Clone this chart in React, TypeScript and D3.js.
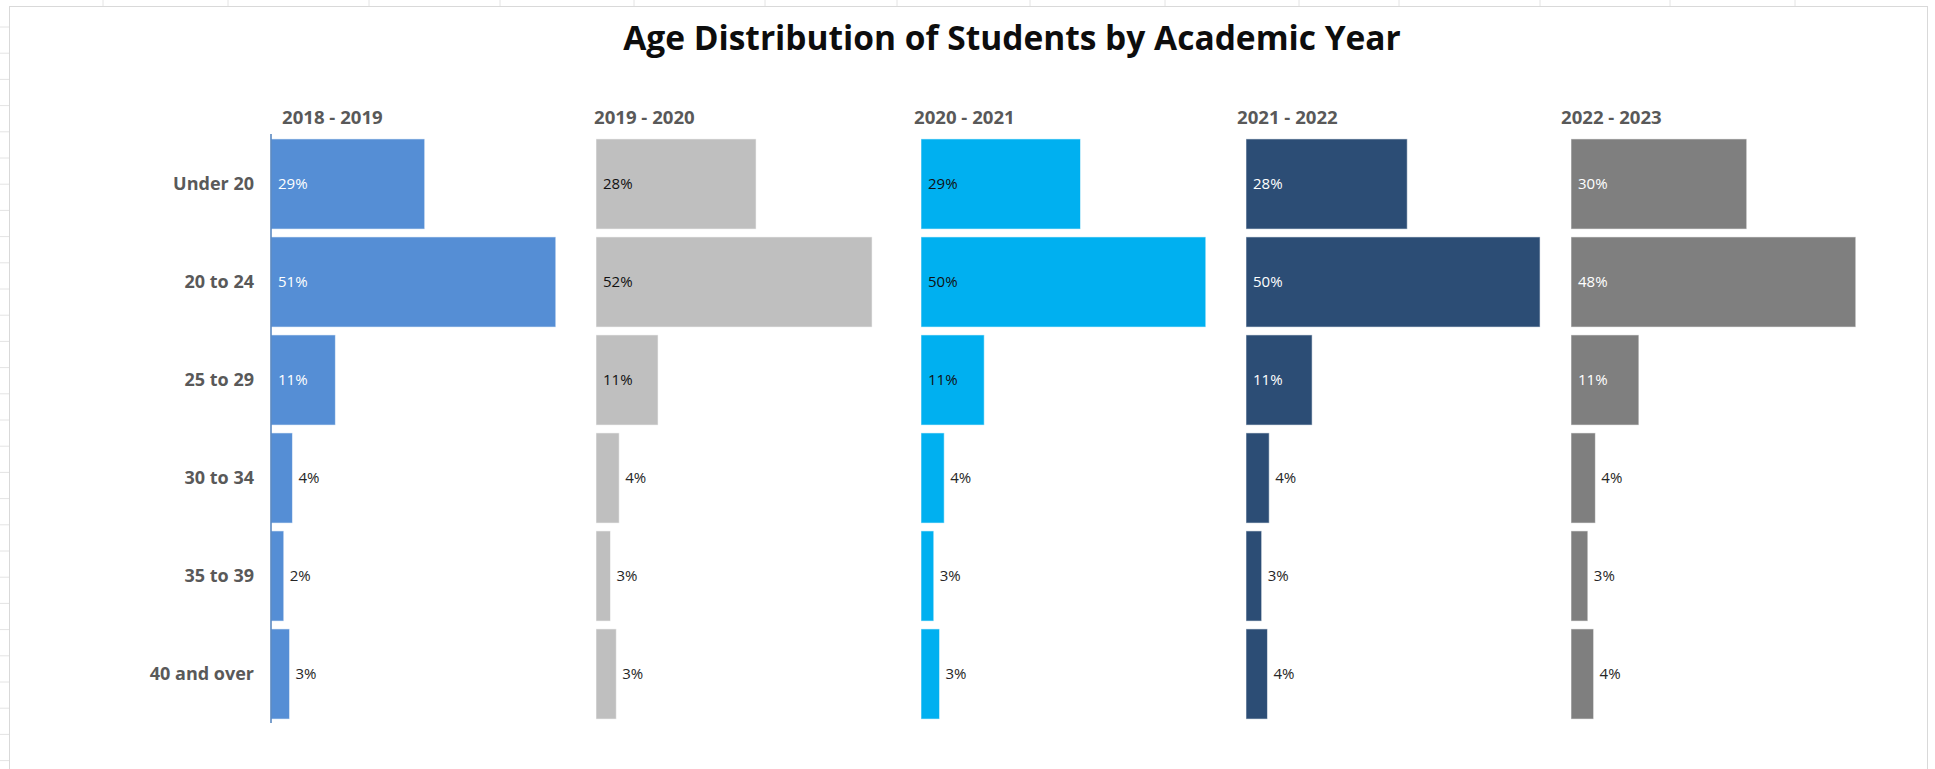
import React from "react";
import * as d3 from "d3";

const categories = ["Under 20", "20 to 24", "25 to 29", "30 to 34", "35 to 39", "40 and over"];
const years = ["2018 - 2019", "2019 - 2020", "2020 - 2021", "2021 - 2022", "2022 - 2023"];

// bar lengths (percent of students)
const share2018 = [26.5, 49.1, 11.1, 3.7, 2.2, 3.2];
const share2019 = [27.6, 47.6, 10.7, 4.0, 2.5, 3.5];
const share2020 = [27.5, 49.1, 10.9, 4.0, 2.2, 3.2];
const share2021 = [27.8, 50.7, 11.4, 4.0, 2.7, 3.7];
const share2022 = [30.3, 49.1, 11.7, 4.2, 2.9, 3.9];

// data labels as printed on the chart
const label2018 = [29, 51, 11, 4, 2, 3];
const label2019 = [28, 52, 11, 4, 3, 3];
const label2020 = [29, 50, 11, 4, 3, 3];
const label2021 = [28, 50, 11, 4, 3, 4];
const label2022 = [30, 48, 11, 4, 3, 4];

const seriesValues = [share2018, share2019, share2020, share2021, share2022];
const seriesLabels = [label2018, label2019, label2020, label2021, label2022];

const colors = ["#558ED5", "#BFBFBF", "#00B0F0", "#2C4D75", "#7F7F7F"];
const insideLabelColors = ["#ffffff", "#111111", "#111111", "#ffffff", "#ffffff"];

const W = 1935;
const H = 769;
const HEADER_X = [282, 594, 914, 1237, 1561];
const TOP_GRID_X = [103, 228, 369, 500, 634, 765, 897, 1030, 1165, 1299, 1399, 1540, 1670, 1795];

export default function App() {
  const panel = d3.scaleBand<string>().domain(years).range([271, 271 + 5 * 325]).padding(0);
  const x = d3.scaleLinear().domain([0, 50]).range([0, 290]);
  const y = d3
    .scaleBand<string>()
    .domain(categories)
    .range([135, 723])
    .paddingInner(0.08)
    .paddingOuter(0.04);
  const fmt = (v: number) => `${v}%`;
  const leftGridY = d3.range(27, H, 26.2);

  return (
    <svg
      width={W}
      height={H}
      style={{ position: "absolute", left: 0, top: 0, background: "#fff" }}
      fontFamily="'Open Sans', sans-serif"
    >
      {/* spreadsheet cell lines around the chart */}
      {TOP_GRID_X.map((gx) => (
        <line key={"tg" + gx} x1={gx} x2={gx} y1={0} y2={6} stroke="#e4e4e4" />
      ))}
      {leftGridY.map((gy) => (
        <line key={"lg" + gy} x1={0} x2={9} y1={gy} y2={gy} stroke="#e4e4e4" />
      ))}
      <rect x={9.5} y={6.5} width={1918} height={H + 10} fill="#fff" stroke="#d9d9d9" />

      <text
        x={1012}
        y={50}
        textAnchor="middle"
        fontSize={33.5}
        fontWeight={700}
        fill="#0d0d0d"
      >
        Age Distribution of Students by Academic Year
      </text>

      {categories.map((c) => (
        <text
          key={c}
          x={254}
          y={(y(c) ?? 0) + y.bandwidth() / 2}
          dy="0.35em"
          textAnchor="end"
          fontSize={18}
          fontWeight={700}
          fill="#595959"
        >
          {c}
        </text>
      ))}

      {years.map((yr, i) => {
        const px = panel(yr) ?? 0;
        const vals = seriesValues[i];
        const labs = seriesLabels[i];
        return (
          <g key={yr}>
            <text x={HEADER_X[i]} y={124} fontSize={18.6} fontWeight={700} fill="#595959">
              {yr}
            </text>
            {categories.map((c, j) => {
              const by = y(c) ?? 0;
              const w = x(vals[j]);
              const inside = vals[j] > 8;
              return (
                <g key={c}>
                  <rect
                    x={px}
                    y={by}
                    width={w}
                    height={y.bandwidth()}
                    fill={colors[i]}
                    stroke="rgba(255,255,255,0.55)"
                    strokeWidth={1}
                  />
                  <text
                    x={inside ? px + 7 : px + w + 6}
                    y={by + y.bandwidth() / 2}
                    dy="0.35em"
                    fontSize={15}
                    fill={inside ? insideLabelColors[i] : "#262626"}
                  >
                    {fmt(labs[j])}
                  </text>
                </g>
              );
            })}
          </g>
        );
      })}

      <line x1={271} x2={271} y1={134} y2={723} stroke="#4F81BD" strokeWidth={1.5} />
    </svg>
  );
}
